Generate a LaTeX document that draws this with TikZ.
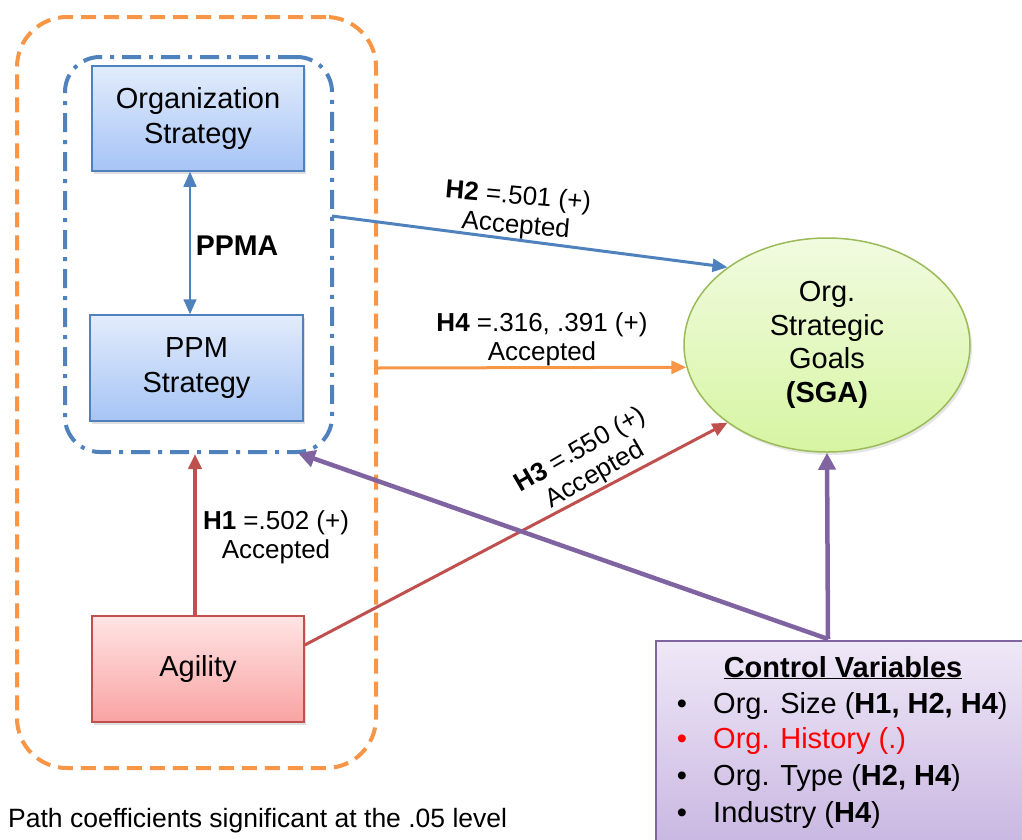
\documentclass[tikz,border=0pt]{standalone}
\usepackage{fontspec}
\setmainfont{Liberation Sans}
\usetikzlibrary{arrows.meta,shapes.geometric,shadows}

\definecolor{accblue}{HTML}{4F81BD}
\definecolor{accorange}{HTML}{F79646}
\definecolor{accred}{HTML}{C0504D}
\definecolor{accpurple}{HTML}{8064A2}
\definecolor{accgreen}{HTML}{9BBB59}
\definecolor{bluetop}{HTML}{E2ECFC}
\definecolor{bluebot}{HTML}{A6C4F5}
\definecolor{redtop}{HTML}{FFE4E4}
\definecolor{redbot}{HTML}{F9A3A3}
\definecolor{greentop}{HTML}{F1FBE0}
\definecolor{greenbot}{HTML}{D6F5A2}
\definecolor{purptop}{HTML}{EFE8F7}
\definecolor{purpbot}{HTML}{C6B3E0}

\tikzset{
  boxtext/.style={font=\fontsize{29}{35}\selectfont, align=center},
  labeltext/.style={font=\fontsize{26}{29}\selectfont, align=center},
  cvtext/.style={font=\fontsize{29}{35}\selectfont, anchor=base west, inner sep=0pt},
  bluebox/.style={boxtext, draw=accblue, line width=1.5pt, top color=bluetop, bottom color=bluebot,
    minimum width=212pt, minimum height=105pt, inner sep=0pt,
    drop shadow={shadow xshift=2pt, shadow yshift=-3pt, opacity=0.25}},
  redbox/.style={boxtext, draw=accred, line width=1.5pt, top color=redtop, bottom color=redbot,
    minimum width=212pt, minimum height=106pt, inner sep=0pt,
    drop shadow={shadow xshift=2pt, shadow yshift=-3pt, opacity=0.25}},
  outerframe/.style={draw=accorange, line width=4pt, rounded corners=50pt, dash pattern=on 15pt off 8pt, inner sep=0pt},
  innerframe/.style={draw=accblue, line width=4pt, rounded corners=35pt, dash pattern=on 19pt off 8pt on 4pt off 8pt, inner sep=0pt},
  tipsmall/.style={-{Triangle[length=15pt,width=13pt]}},
  tipbig/.style={-{Triangle[length=17pt,width=17pt]}},
}

\begin{document}
\begin{tikzpicture}[x=1pt,y=-1pt]
\useasboundingbox (0,0) rectangle (1022,839);

% containers
\node[outerframe, minimum width=359pt, minimum height=751pt] (oframe) at (196.5,392.5) {};
\node[innerframe, minimum width=267pt, minimum height=395pt] (bframe) at (198.5,254.5) {};

% construct boxes
\node[bluebox] (ostrat) at (198,118.5) {Organization\\Strategy};
\node[bluebox, minimum width=213pt, minimum height=106pt] (ppm) at (196.5,368) {PPM\\Strategy};
\node[redbox] (agility) at (198,669) {Agility};

% outcome
\node[ellipse, draw=accgreen, line width=1.5pt, minimum width=286pt, minimum height=214pt, inner sep=0pt,
      top color=greentop, bottom color=greenbot,
      drop shadow={shadow xshift=2pt, shadow yshift=-3pt, opacity=0.2},
      font=\fontsize{29}{33.5}\selectfont, align=center] (sga) at (827,345)
      {Org.\\Strategic\\Goals\\\textbf{(SGA)}};

% control variables panel
\node[draw=accpurple, line width=2pt, anchor=north west, minimum width=380pt, minimum height=220pt, inner sep=0pt,
      top color=purptop, bottom color=purpbot] (cv) at (655,640) {};
\node[font=\fontsize{29}{35}\selectfont, anchor=base, inner sep=0pt] (cvtitle) at (843,677) {\underline{\textbf{Control Variables}}};
\node[cvtext, anchor=base] (b1) at (682,713) {•};
\node[cvtext] (cv1) at (713,713) {Org. Size (\textbf{H1, H2, H4})};
\node[cvtext, anchor=base, text=red] (b2) at (682,748) {•};
\node[cvtext, text=red] (cv2) at (713,748) {Org. History (.)};
\node[cvtext, anchor=base] (b3) at (682,785) {•};
\node[cvtext] (cv3) at (713,785) {Org. Type (\textbf{H2, H4})};
\node[cvtext, anchor=base] (b4) at (682,822) {•};
\node[cvtext] (cv4) at (713,822) {Industry (\textbf{H4})};

% connector end points on the frames
\coordinate (h2s) at (332,216);
\coordinate (h4s) at (376,368);
\coordinate (cvtop) at (828,639);
\coordinate (frmcorner) at (298,453);

% PPMA link
\draw[accblue, line width=1.5pt, {Triangle[length=15pt,width=13pt]}-{Triangle[length=15pt,width=13pt]}]
  ([xshift=-8pt]ostrat.south) -- ([xshift=-6.5pt]ppm.north);
\node[font=\fontsize{28.5}{34}\bfseries\selectfont] (ppma) at (237,246) {PPMA};

% hypotheses
\draw[accblue, line width=3pt, tipsmall] (h2s) -- (sga.142);
\node[labeltext, rotate=-5] (h2lab) at (517,212) {\textbf{H2} =.501 (+)\\Accepted};

\draw[accorange, line width=3pt, tipsmall] (h4s) -- (sga.189);
\node[labeltext] (h4lab) at (542,339) {\textbf{H4} =.316, .391 (+)\\Accepted};

\draw[accred, line width=3pt, tipsmall] (agility.east |- 0,645) -- (sga.218);
\node[labeltext, rotate=30] (h3lab) at (588,463) {\textbf{H3} =.550 (+)\\Accepted};

\draw[accred, line width=4pt, tipsmall] ([xshift=-3pt]agility.north) -- ([xshift=-3pt]agility.north |- bframe.south);
\node[labeltext] (h1lab) at (276,537) {\textbf{H1} =.502 (+)\\Accepted};

% control effects
\draw[accpurple, line width=4.5pt, tipbig] (cvtop) -- (sga.south);
\draw[accpurple, line width=4.5pt, tipbig] (cvtop) -- (frmcorner);

% note
\node[font=\fontsize{26.5}{30}\selectfont, anchor=base west, inner sep=0pt] (note) at (8,827) {Path coefficients significant at the .05 level};
\end{tikzpicture}
\end{document}
